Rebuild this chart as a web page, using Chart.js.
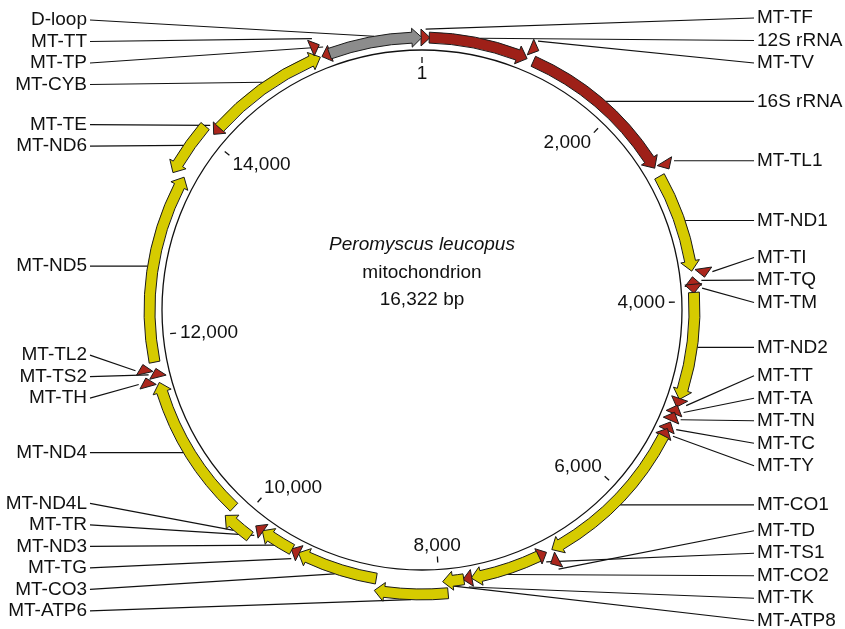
<!DOCTYPE html>
<html lang="en">
<head>
<meta charset="UTF-8">
<title>Peromyscus leucopus mitochondrion</title>
<script src="https://cdn.jsdelivr.net/npm/chart.js"></script>
<style>
  html, body { margin: 0; padding: 0; background: #fff; }
  canvas { display: block; }
</style>
</head>
<body>
<canvas id="mitoMap" width="845" height="629"></canvas>
<script>
// genome + annotation (positions)
const genomeLength = 16322;
const speciesName = 'Peromyscus leucopus';
const moleculeName = 'mitochondrion';

const featureNames = ['MT-TF', '12S rRNA', 'MT-TV', '16S rRNA', 'MT-TL1', 'MT-ND1', 'MT-TI', 'MT-TQ', 'MT-TM', 'MT-ND2',
  'MT-TT', 'MT-TA', 'MT-TN', 'MT-TC', 'MT-TY', 'MT-CO1', 'MT-TD', 'MT-TS1', 'MT-CO2', 'MT-TK',
  'MT-ATP8', 'MT-ATP6', 'MT-CO3', 'MT-TG', 'MT-ND3', 'MT-TR', 'MT-ND4L', 'MT-ND4', 'MT-TH', 'MT-TS2',
  'MT-TL2', 'MT-ND5', 'MT-ND6', 'MT-TE', 'MT-CYB', 'MT-TT', 'MT-TP', 'D-loop'];
const featureStarts = [1, 70, 1025, 1094, 2655, 2750, 3706, 3772, 3845, 3914,
  4951, 5018, 5089, 5192, 5259, 5328, 6868, 6938, 7012, 7694,
  7762, 7923, 8600, 9386, 9454, 9790, 9850, 10140, 11540, 11609,
  11665, 11742, 13552, 14071, 14145, 15289, 15356, 15423];
const featureEnds = [68, 1030, 1093, 2660, 2730, 3710, 3774, 3842, 3913, 4950,
  5017, 5086, 5159, 5257, 5326, 6872, 6936, 7006, 7690, 7760,
  7965, 8600, 9385, 9453, 9789, 9857, 10146, 11544, 11608, 11667,
  11735, 13565, 14070, 14139, 15330, 15355, 15422, 16322];
const featureStrands = [1, 1, 1, 1, 1, 1, 1, -1, 1, 1,
  1, -1, -1, -1, -1, 1, 1, -1, 1, 1,
  1, 1, 1, 1, 1, 1, 1, 1, 1, 1,
  1, 1, -1, -1, 1, 1, -1, 1];
const featureKinds = ['tRNA', 'rRNA', 'tRNA', 'rRNA', 'tRNA', 'gene', 'tRNA', 'tRNA', 'tRNA', 'gene',
  'tRNA', 'tRNA', 'tRNA', 'tRNA', 'tRNA', 'gene', 'tRNA', 'tRNA', 'gene', 'tRNA',
  'gene', 'gene', 'gene', 'tRNA', 'gene', 'tRNA', 'gene', 'gene', 'tRNA', 'tRNA',
  'tRNA', 'gene', 'gene', 'tRNA', 'gene', 'tRNA', 'tRNA', 'dloop'];

const tickPositions = [1, 2000, 4000, 6000, 8000, 10000, 12000, 14000];
const tickLabels = ['1', '2,000', '4,000', '6,000', '8,000', '10,000', '12,000', '14,000'];

const kindColors = { gene: '#d6cb00', rRNA: '#9e2018', tRNA: '#ab261c', dloop: '#8c8c8c' };
const FONT = '"Liberation Sans", Arial, Helvetica, sans-serif';

// stack overlapping features into outer lanes
function assignLanes() {
  const laneEnds = [];
  return featureStarts.map((s, i) => {
    let lane = 0;
    while (laneEnds[lane] !== undefined && s <= laneEnds[lane]) lane++;
    laneEnds[lane] = featureEnds[i];
    return lane;
  });
}
const featureLanes = assignLanes();

const mapPlugin = {
  id: 'mitoMap',
  afterDraw(chart) {
    const ctx = chart.ctx;
    const xs = chart.scales.x, ys = chart.scales.y;
    const unit = xs.getPixelForValue(1) - xs.getPixelForValue(0);
    const cx = xs.getPixelForValue(0), cy = ys.getPixelForValue(0);
    const ang = pos => (pos - 1) / genomeLength * 2 * Math.PI;
    const P = (a, r) => [cx + r * Math.sin(a), cy - r * Math.cos(a)];
    const H = Math.PI / 2;

    const R = unit;
    const bandIn = 1.027 * unit, bandOut = 1.069 * unit, laneStep = 0.046 * unit;
    const headLen = 10, flare = 4, tFlare = 3, tMin = 9;

    // label targets
    const feats = featureNames.map((name, i) => {
      const lane = featureLanes[i];
      const rIn = bandIn + lane * laneStep, rOut = bandOut + lane * laneStep;
      const mid = ang((featureStarts[i] + featureEnds[i]) / 2);
      const tip = P(mid, rOut + (featureKinds[i] === 'tRNA' ? tFlare : 0));
      return { i, name, rIn, rOut, mid, tx: tip[0], ty: tip[1], side: mid < Math.PI ? 'R' : 'L' };
    });

    function spread(list, gap, minY) {
      const clusters = [];
      list.forEach(f => {
        clusters.push({ items: [f], top: Math.max(minY, f.ty) });
        while (clusters.length > 1) {
          const b = clusters[clusters.length - 1], a = clusters[clusters.length - 2];
          if (a.top + a.items.length * gap > b.top) {
            a.items = a.items.concat(b.items);
            let sum = 0;
            a.items.forEach((it, k) => { sum += it.ty - k * gap; });
            a.top = Math.max(minY, sum / a.items.length);
            clusters.pop();
          } else break;
        }
      });
      clusters.forEach(c => c.items.forEach((it, k) => { it.ly = c.top + k * gap; }));
    }
    const right = feats.filter(f => f.side === 'R').sort((a, b) => a.i - b.i);
    const left = feats.filter(f => f.side === 'L').sort((a, b) => a.ty - b.ty);
    spread(right, 22.5, 18);
    spread(left, 21.5, 20);

    ctx.save();
    // leader lines
    ctx.strokeStyle = '#111';
    ctx.lineWidth = 1.2;
    const xRL = xs.getPixelForValue(1.277), xRT = xs.getPixelForValue(1.2885);
    const xLL = xs.getPixelForValue(-1.277), xLT = xs.getPixelForValue(-1.2885);
    feats.forEach(f => {
      ctx.beginPath();
      ctx.moveTo(f.side === 'R' ? xRL : xLL, f.ly);
      ctx.lineTo(f.tx, f.ty);
      ctx.stroke();
    });

    // backbone circle
    ctx.lineWidth = 1.3;
    ctx.beginPath();
    ctx.arc(cx, cy, R, 0, 2 * Math.PI);
    ctx.stroke();

    // ticks + labels
    ctx.font = '19px ' + FONT;
    ctx.fillStyle = '#111';
    ctx.textAlign = 'center';
    ctx.textBaseline = 'middle';
    tickPositions.forEach((p, k) => {
      const a = ang(p);
      const p0 = P(a, 0.95 * unit), p1 = P(a, 0.973 * unit);
      ctx.beginPath();
      ctx.moveTo(p0[0], p0[1]);
      ctx.lineTo(p1[0], p1[1]);
      ctx.stroke();
      const an = P(a, 0.935 * unit);
      const w = ctx.measureText(tickLabels[k]).width;
      const s = Math.sin(a), c = Math.cos(a);
      const sx = s > 0.3 ? 1 : (s < -0.3 ? -1 : 0);
      const sy = c > 0.3 ? 1 : (c < -0.3 ? -1 : 0);
      ctx.fillText(tickLabels[k], an[0] - sx * w / 2, an[1] + sy * 7);
    });

    // features
    ctx.lineWidth = 1;
    ctx.strokeStyle = '#1a1a1a';
    ctx.lineJoin = 'miter';
    feats.forEach(f => {
      const i = f.i;
      const strand = featureStrands[i];
      const kind = featureKinds[i];
      const rIn = f.rIn, rOut = f.rOut, rMid = (rIn + rOut) / 2;
      let a0 = ang(featureStarts[i]), a1 = ang(featureEnds[i]);
      const hA = headLen / rMid;
      ctx.beginPath();
      if (kind === 'tRNA' || a1 - a0 <= hA * 1.1) {
        const len = Math.max(a1 - a0, tMin / rMid);
        a0 = f.mid - len / 2; a1 = f.mid + len / 2;
        const base = strand > 0 ? a0 : a1, tip = strand > 0 ? a1 : a0;
        const q0 = P(base, rIn - tFlare), q1 = P(tip, rMid), q2 = P(base, rOut + tFlare);
        ctx.moveTo(q0[0], q0[1]); ctx.lineTo(q1[0], q1[1]); ctx.lineTo(q2[0], q2[1]);
        ctx.closePath();
      } else if (strand > 0) {
        const b = a1 - hA;
        ctx.arc(cx, cy, rOut, a0 - H, b - H, false);
        let q = P(b, rOut + flare); ctx.lineTo(q[0], q[1]);
        q = P(a1, rMid); ctx.lineTo(q[0], q[1]);
        q = P(b, rIn - flare); ctx.lineTo(q[0], q[1]);
        q = P(b, rIn); ctx.lineTo(q[0], q[1]);
        ctx.arc(cx, cy, rIn, b - H, a0 - H, true);
        ctx.closePath();
      } else {
        const b = a0 + hA;
        let q = P(a0, rMid); ctx.moveTo(q[0], q[1]);
        q = P(b, rOut + flare); ctx.lineTo(q[0], q[1]);
        q = P(b, rOut); ctx.lineTo(q[0], q[1]);
        ctx.arc(cx, cy, rOut, b - H, a1 - H, false);
        ctx.arc(cx, cy, rIn, a1 - H, b - H, true);
        q = P(b, rIn - flare); ctx.lineTo(q[0], q[1]);
        ctx.closePath();
      }
      ctx.fillStyle = kindColors[kind];
      ctx.fill();
      ctx.stroke();
    });

    // feature labels
    ctx.fillStyle = '#111';
    ctx.font = '19px ' + FONT;
    feats.forEach(f => {
      ctx.textAlign = f.side === 'R' ? 'left' : 'right';
      ctx.fillText(f.name, f.side === 'R' ? xRT : xLT, f.ly);
    });

    // centre title
    ctx.textAlign = 'center';
    ctx.font = 'italic 19px ' + FONT;
    ctx.fillText(speciesName, cx, ys.getPixelForValue(0.25));
    ctx.font = '19px ' + FONT;
    ctx.fillText(moleculeName, cx, ys.getPixelForValue(0.142));
    ctx.fillText(genomeLength.toLocaleString('en-US') + ' bp', cx, ys.getPixelForValue(0.038));
    ctx.restore();
  }
};

new Chart(document.getElementById('mitoMap'), {
  type: 'scatter',
  data: { datasets: [] },
  options: {
    responsive: false,
    animation: false,
    devicePixelRatio: 1,
    events: [],
    layout: { padding: 0 },
    plugins: { legend: { display: false }, tooltip: { enabled: false } },
    scales: {
      x: { type: 'linear', min: -422 / 260, max: 423 / 260, display: false },
      y: { type: 'linear', min: -319 / 260, max: 310 / 260, display: false }
    }
  },
  plugins: [mapPlugin]
});
</script>
</body>
</html>
